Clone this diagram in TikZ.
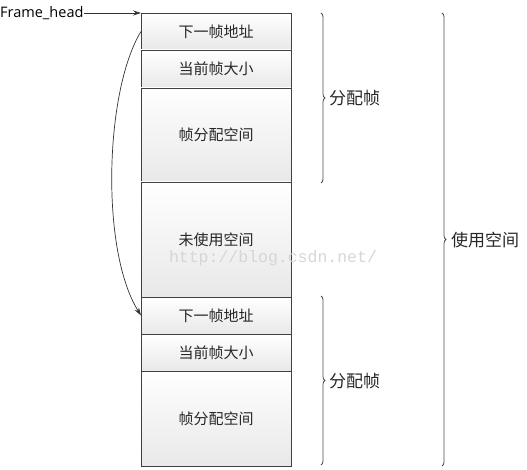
\documentclass[tikz,border=0pt]{standalone}
\usepackage{fontspec}
\setmainfont{Open Sans}
\newfontfamily\cjk{Noto Sans CJK SC}
\newfontfamily\wmfont{Liberation Mono}
\usetikzlibrary{arrows.meta,decorations.pathreplacing}
\begin{document}
\begin{tikzpicture}[x=1pt,y=-1pt,
  cell/.style={draw=black!75, line width=0.8pt, top color=white, bottom color=black!9,
    minimum width=150pt, anchor=north west, inner sep=0pt, outer sep=0pt,
    font=\cjk\fontsize{15}{15}\selectfont, text=black!85},
  brc/.style={draw=black!70, line width=0.8pt, decorate, decoration={brace, amplitude=4pt}},
  lbl/.style={font=\cjk\fontsize{17}{17}\selectfont, text=black!85, anchor=west, inner sep=0pt},
  conn/.style={draw=black!80, line width=0.7pt, -{Stealth[length=8pt,width=5pt]}}]
\useasboundingbox (0,0) rectangle (527,470);
\node[cell, minimum height=37pt] (b1) at (141,13) {下一帧地址};
\node[cell, minimum height=38pt] (b2) at (b1.south west) {当前帧大小};
\node[cell, minimum height=94pt] (b3) at (b2.south west) {帧分配空间};
\node[cell, minimum height=115pt] (b4) at (b3.south west) {未使用空间};
\node[cell, minimum height=37pt] (b5) at (b4.south west) {下一帧地址};
\node[cell, minimum height=37pt] (b6) at (b5.south west) {当前帧大小};
\node[cell, minimum height=95pt] (b7) at (b6.south west) {帧分配空间};
\node[font=\wmfont\fontsize{16.5}{16.5}\selectfont, text=black!16] (wm) at (273,258) {http://blog.csdn.net/};
\node[anchor=west, inner sep=0pt, font=\fontsize{14.5}{14.5}\selectfont, text=black] (fh) at (0,13) {Frame\_head};
\draw[conn] (fh.east) -- (b1.north west);
\draw[conn] (b1.west) .. controls (105,90) and (100,250) .. (b5.west);
\coordinate (t1) at (321,13);
\coordinate (e1) at (321,183);
\coordinate (t2) at (321,296);
\coordinate (e2) at (321,465);
\coordinate (t3) at (442,13);
\coordinate (e3) at (442,466);
\draw[brc] (t1) -- (e1);
\draw[brc] (t2) -- (e2);
\draw[brc] (t3) -- (e3);
\node[lbl] (l1) at (329,98) {分配帧};
\node[lbl] (l2) at (329,381) {分配帧};
\node[lbl] (l3) at (451,240) {使用空间};
\end{tikzpicture}
\end{document}
